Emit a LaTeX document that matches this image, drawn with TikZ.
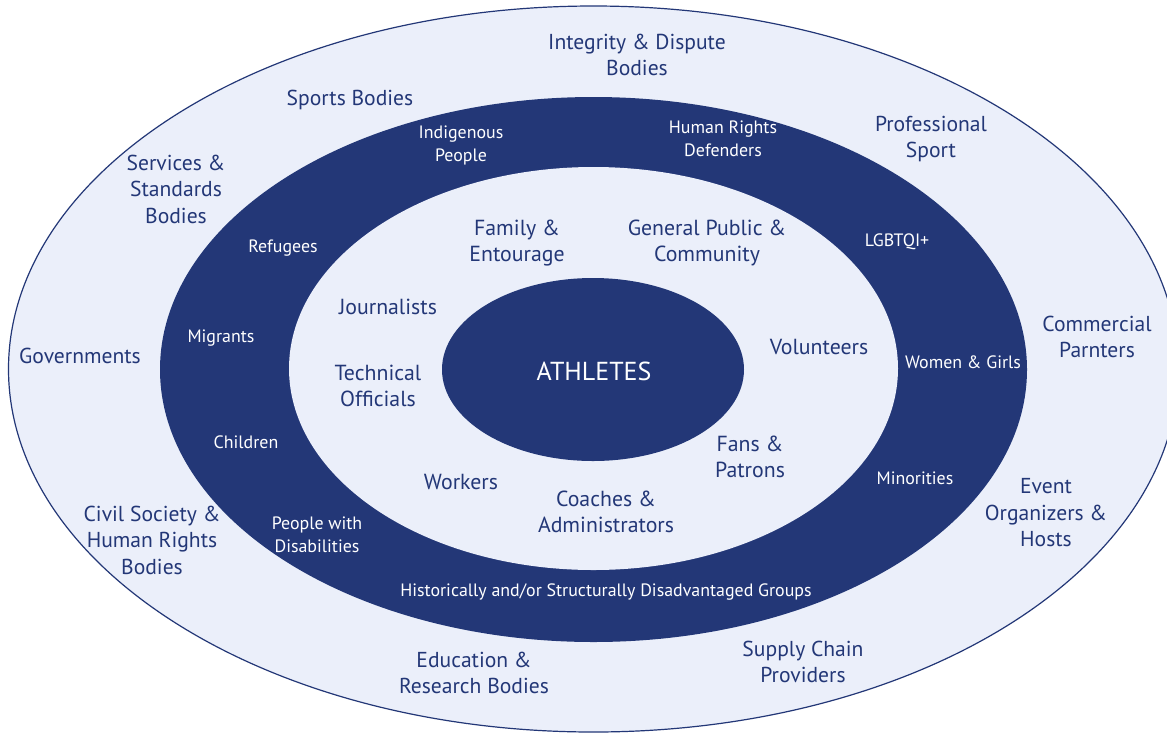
\documentclass[tikz,border=0pt]{standalone}
\usepackage{fontspec}
\setmainfont{PT Sans}
\definecolor{navy}{RGB}{35,55,119}
\definecolor{pale}{RGB}{235,239,250}
\tikzset{
  outerlbl/.style={text=navy, align=center, inner sep=0pt, font=\fontsize{21.6}{26.5}\selectfont},
  innerlbl/.style={text=navy, align=center, inner sep=0pt, font=\fontsize{21.8}{26.5}\selectfont},
  ringlbl/.style={text=white, align=center, inner sep=0pt, font=\fontsize{17.9}{23}\selectfont},
  corelbl/.style={text=white, align=center, inner sep=0pt, font=\fontsize{26}{30}\selectfont},
}
\begin{document}
\begin{tikzpicture}[x=1pt,y=-1pt]
\useasboundingbox (0,0) rectangle (1167,732);
\fill[white] (0,0) rectangle (1167,732);
\begin{scope}
\clip (0,0) rectangle (1167,732);
\draw[navy, line width=1.2pt, fill=pale] (593.5,369) ellipse [x radius=585, y radius=363];
\fill[navy] (593.5,369.5) ellipse [x radius=433.5, y radius=272.5];
\fill[pale] (593.5,368.5) ellipse [x radius=304.5, y radius=201.5];
\fill[navy] (593,369.5) ellipse [x radius=151, y radius=91.5];
\end{scope}
% core
\node[corelbl] (athletes) at (594,371) {ATHLETES};
% outer labels
\node[outerlbl] (integrity) at (637,55) {Integrity \& Dispute\\Bodies};
\node[outerlbl] (sports) at (350,100) {Sports Bodies};
\node[outerlbl] (prosport) at (931,139) {Professional\\Sport};
\node[outerlbl] (services) at (176,189) {Services \&\\Standards\\Bodies};
\node[outerlbl] (commercial) at (1097,337) {Commercial\\Parnters};
\node[outerlbl] (govts) at (80,356) {Governments};
\node[outerlbl] (event) at (1046,513) {Event\\Organizers \&\\Hosts};
\node[outerlbl] (civil) at (152,540) {Civil Society \&\\Human Rights\\Bodies};
\node[outerlbl] (education) at (474,673) {Education \&\\Research Bodies};
\node[outerlbl] (supply) at (803,662) {Supply Chain\\Providers};
% ring labels
\node[ringlbl] (indigenous) at (461,145) {Indigenous\\People};
\node[ringlbl] (hrd) at (723,139) {Human Rights\\Defenders};
\node[ringlbl] (refugees) at (283,248) {Refugees};
\node[ringlbl] (lgbtqi) at (897,242) {LGBTQI+};
\node[ringlbl] (migrants) at (221,338) {Migrants};
\node[ringlbl] (women) at (963,362) {Women \& Girls};
\node[ringlbl] (children) at (246,442) {Children};
\node[ringlbl] (minorities) at (915,478) {Minorities};
\node[ringlbl] (disab) at (317,535) {People with\\Disabilities};
\node[ringlbl] (hist) at (606,592) {Historically and/or Structurally Disadvantaged Groups};
% inner labels
\node[innerlbl] (family) at (517,243) {Family \&\\Entourage};
\node[innerlbl] (public) at (707,243) {General Public \&\\Community};
\node[innerlbl] (journ) at (388,307) {Journalists};
\node[innerlbl] (vol) at (819,347) {Volunteers};
\node[innerlbl] (tech) at (378,386) {Technical\\Officials};
\node[innerlbl] (fans) at (750,457) {Fans \&\\Patrons};
\node[innerlbl] (workers) at (461,482) {Workers};
\node[innerlbl] (coaches) at (606,512) {Coaches \&\\Administrators};
\end{tikzpicture}
\end{document}
